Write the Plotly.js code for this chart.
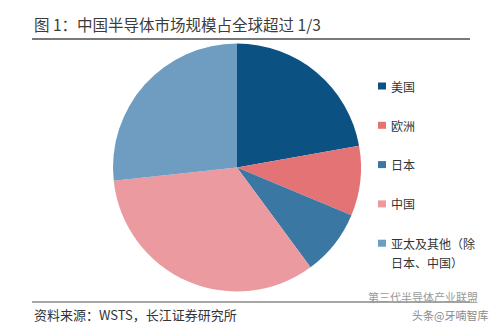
<!DOCTYPE html>
<html>
<head>
<meta charset="utf-8">
<script src="https://cdn.plot.ly/plotly-3.0.1.min.js"></script>
<style>html,body{margin:0;padding:0;background:#fff;}#chart{width:500px;height:328px;}</style>
</head>
<body>
<div id="chart"></div>
<script>
// Data (share of global semiconductor market, %)
var categories = ["美国", "欧洲", "日本", "中国", "亚太及其他（除日本、中国）"];
var legendLines = [["美国"], ["欧洲"], ["日本"], ["中国"], ["亚太及其他（除", "日本、中国）"]];
var shares = [22.2, 9.1, 8.6, 33.4, 26.7];
var colors = ["#0b5283", "#e37374", "#3a77a2", "#eb9a9f", "#6e9dc1"];

var titleText = "图 1：中国半导体市场规模占全球超过 1/3";
var sourceText = "资料来源：WSTS，长江证券研究所";

var W = 500, H = 328;
function px(x) { return x / W; }
function py(y) { return 1 - y / H; }

var FONT = '"Noto Sans CJK SC", "Noto Sans", sans-serif';

var trace = {
  type: "pie",
  labels: categories,
  values: shares,
  sort: false,
  direction: "clockwise",
  rotation: 0,
  textinfo: "none",
  hoverinfo: "label+percent",
  marker: { colors: colors, line: { width: 0 } },
  showlegend: false,
  domain: { x: [px(113), px(361)], y: [py(291.5), py(43.5)] }
};

var shapes = [
  { type: "line", xref: "paper", yref: "paper", x0: px(32), x1: px(470), y0: py(39), y1: py(39), line: { color: "#4d4d4d", width: 1.5 } },
  { type: "line", xref: "paper", yref: "paper", x0: px(32), x1: px(470), y0: py(302), y1: py(302), line: { color: "#4d4d4d", width: 1 } }
];
var annotations = [
  { text: titleText, xref: "paper", yref: "paper", x: px(32), y: py(24), xanchor: "left", yanchor: "middle", showarrow: false, font: { family: FONT, size: 15.5, color: "#3c3c3c" } },
  { text: sourceText, xref: "paper", yref: "paper", x: px(32), y: py(314), xanchor: "left", yanchor: "middle", showarrow: false, font: { family: FONT, size: 13, color: "#333" } },
  { text: "第三代半导体产业联盟", xref: "paper", yref: "paper", x: px(366), y: py(297), xanchor: "left", yanchor: "middle", showarrow: false, font: { family: FONT, size: 11, color: "#9a9a9a" } },
  { text: "头条@牙喃智库", xref: "paper", yref: "paper", x: px(490), y: py(315), xanchor: "right", yanchor: "middle", showarrow: false, font: { family: FONT, size: 11, color: "#8a8a8a" } }
];

// Legend built from the category / colour arrays
var legendTop = 86, legendStep = 39.3, lineGap = 19;
categories.forEach(function (c, i) {
  var yc = legendTop + i * legendStep;
  shapes.push({ type: "rect", xref: "paper", yref: "paper", x0: px(378), x1: px(386), y0: py(yc - 3.5), y1: py(yc + 3.5), fillcolor: colors[i], line: { width: 0 } });
  legendLines[i].forEach(function (t, j) {
    annotations.push({ text: t, xref: "paper", yref: "paper", x: px(389), y: py(yc + j * lineGap), xanchor: "left", yanchor: "middle", showarrow: false, font: { family: FONT, size: 12, color: "#333" } });
  });
});

var layout = {
  width: W, height: H,
  margin: { l: 0, r: 0, t: 0, b: 0 },
  paper_bgcolor: "#fff",
  showlegend: false,
  shapes: shapes,
  annotations: annotations
};

Plotly.newPlot("chart", [trace], layout, { displayModeBar: false, staticPlot: true });
</script>
</body>
</html>
